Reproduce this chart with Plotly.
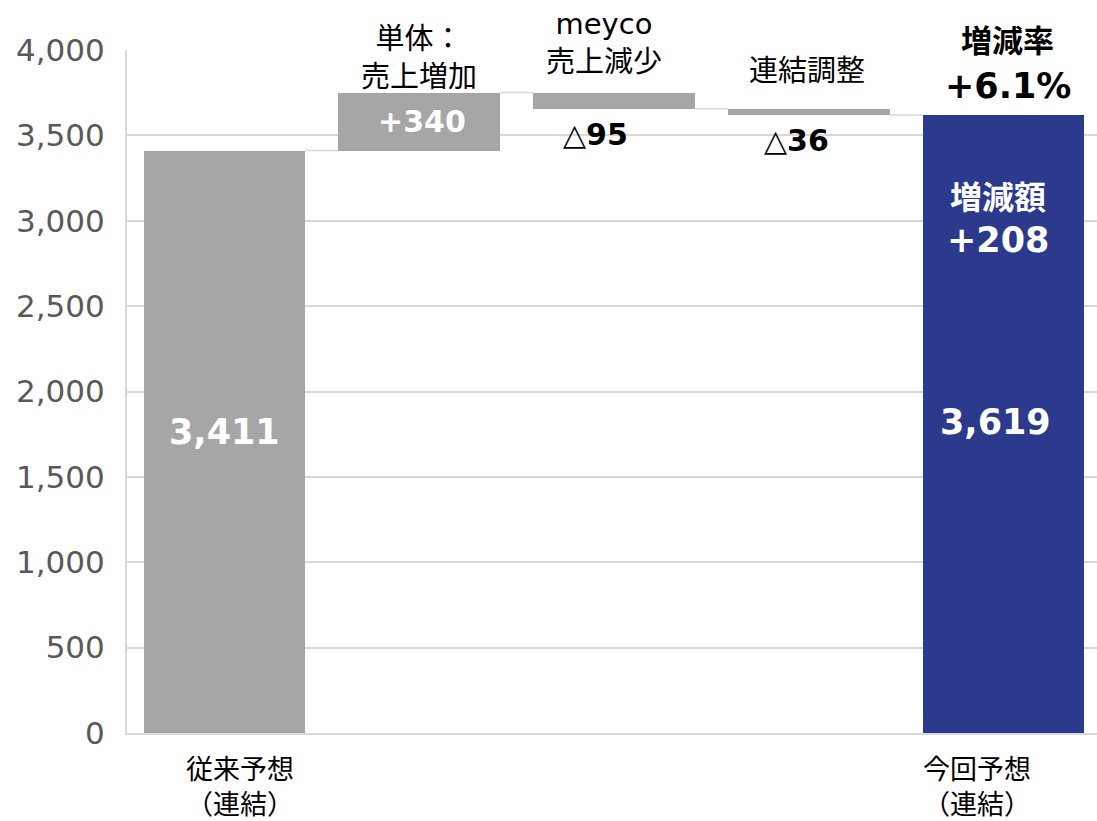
import plotly.graph_objects as go

# ---- data ----
categories = ["従来予想（連結）", "単体：売上増加", "meyco売上減少", "連結調整", "今回予想（連結）"]
values = [3411, 340, -95, -36, 3619]
measures = ["absolute", "relative", "relative", "relative", "total"]
y_ticks = [0, 500, 1000, 1500, 2000, 2500, 3000, 3500, 4000]

GRAY = "#A6A6A6"
NAVY = "#2B3A8C"
GRID = "#D9D9D9"
FONT = "DejaVu Sans, Noto Sans CJK JP, sans-serif"
CJK = "Noto Sans CJK JP, DejaVu Sans, sans-serif"

# compute waterfall bases / heights
bases, heights, levels = [], [], []
level = 0
for v, m in zip(values, measures):
    if m == "absolute":
        bases.append(0); heights.append(v); level = v
    elif m == "total":
        bases.append(0); heights.append(v)
    else:
        new = level + v
        bases.append(min(level, new)); heights.append(abs(v)); level = new
    levels.append(level)

colors = [GRAY, GRAY, GRAY, GRAY, NAVY]
xs = list(range(len(values)))
BAR_W = 0.83

fig = go.Figure()
fig.add_trace(go.Bar(x=xs, y=heights, base=bases, width=BAR_W,
                     marker=dict(color=colors, line=dict(width=0)),
                     hoverinfo="skip", showlegend=False))

# connectors
for i in range(len(values) - 1):
    fig.add_trace(go.Scatter(x=[i + BAR_W / 2, i + 1 - BAR_W / 2], y=[levels[i], levels[i]],
                             mode="lines", line=dict(color=GRID, width=1.5),
                             hoverinfo="skip", showlegend=False))

PX0, PX_TOP = 733, 50
def pp(px):
    # pixel row -> paper fraction
    return (PX0 - px) / (PX0 - PX_TOP)

ann = []
def add(text, x, y, size, color="black", bold=False, xshift=0, yshift=0, font=FONT, yref="y"):
    t = f"<b>{text}</b>" if bold else text
    ann.append(dict(text=t, x=x, y=y, xref="x", yref=yref, showarrow=False,
                    xanchor="center", yanchor="middle", xshift=xshift, yshift=yshift,
                    font=dict(size=size, color=color, family=font)))

def addp(text, x, px, size, color="black", bold=False, xshift=0, font=FONT):
    add(text, x, pp(px), size, color, bold, xshift, 0, font, "paper")

diff = values[4] - values[0]
rate = diff / values[0] * 100

# bar labels
add(f"{values[0]:,}", 0, values[0] / 2, 35, "white", True, 0, 10)
add(f"+{values[1]}", 1, bases[1] + heights[1] / 2, 30, "white", True, 3, 0)
add(f"△{abs(values[2])}", 2, bases[2], 30, "black", True, -18, -26)
add(f"△{abs(values[3])}", 3, bases[3], 30, "black", True, -12, -26)
addp("増減額", 4, 195, 32, "white", True, -6, CJK)
addp(f"+{diff}", 4, 240, 35, "white", True, -6)
addp(f"{values[4]:,}", 4, 422, 35, "white", True, -8)

# header labels
addp("単体：<br>売上増加", 1, 55, 29, "black", False, 0, CJK)
addp("meyco<br>売上減少", 2, 43, 29, "black", False, -10)
addp("連結調整", 3, 68, 29, "black", False, -2, CJK)
addp("増減率", 4, 38, 31, "black", True, 4, CJK)
addp(f"+{rate:.1f}%", 4, 86, 35, "black", True, 4)

# category labels
addp("従来予想<br>（連結）", 0, 785, 27, "black", False, 16, CJK)
addp("今回予想<br>（連結）", 4, 785, 27, "black", False, -27, CJK)

# unit label, cut off at the very top edge as in the source
ann.append(dict(text="（単位：百万円）", x=0, y=1, xref="paper", yref="paper",
                xanchor="left", yanchor="bottom", showarrow=False, xshift=-107, yshift=PX_TOP - 3,
                font=dict(size=26, color="#404040", family=CJK)))

fig.update_layout(
    width=1097, height=821,
    margin=dict(l=127, r=0, t=PX_TOP, b=821 - PX0),
    plot_bgcolor="white", paper_bgcolor="white",
    annotations=ann,
    bargap=0,
    xaxis=dict(range=[-0.5, 4.48], showticklabels=False, showgrid=False, zeroline=False,
               showline=True, linecolor=GRID, linewidth=2, fixedrange=True),
    yaxis=dict(range=[0, 4000], tickvals=y_ticks, tickformat=",", showgrid=True,
               gridcolor=GRID, gridwidth=2, zeroline=False, showline=True,
               linecolor=GRID, linewidth=2, ticks="", ticklabelstandoff=14,
               tickfont=dict(size=31, color="#595959", family=FONT), fixedrange=True),
)

fig.write_html("out.html", config={"displayModeBar": False},
               post_script="document.body.style.margin='0px';")
